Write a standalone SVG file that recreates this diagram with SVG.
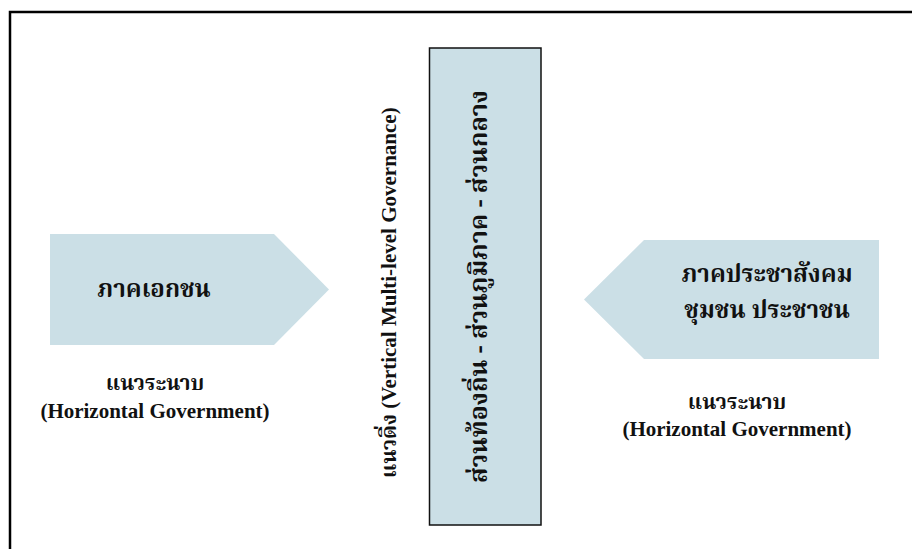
<svg xmlns="http://www.w3.org/2000/svg" width="912" height="549" viewBox="0 0 912 549">
<style>
.fill{fill:#cbdfe6;}
.en{font-family:"Liberation Serif","Times New Roman",serif;font-weight:bold;fill:#111;}
.th{font-family:"Noto Serif Thai","Noto Sans Thai","Liberation Serif",serif;font-weight:bold;fill:#111;}
</style>
<rect x="0" y="0" width="912" height="549" fill="#fff"/>
<g id="frame"><path d="M10,549 L10,12 L912,12" fill="none" stroke="#000" stroke-width="2.5"/></g>
<g id="center">
<rect x="429.5" y="48" width="111.5" height="477" class="fill" stroke="#111" stroke-width="1.5"/>
<text class="th" font-size="24" transform="translate(487,483) rotate(-90)" textLength="393" lengthAdjust="spacingAndGlyphs">ส่วนท้องถิ่น - ส่วนภูมิภาค - ส่วนกลาง</text>
</g>
<g id="vertical-label">
<text class="en" font-size="21" transform="translate(396,478) rotate(-90)"><tspan class="th">แนวดิ่ง</tspan> (Vertical Multi-level Governance)</text>
</g>
<g id="private">
<polygon class="fill" points="50,234 274,234 329,289.5 274,345 50,345"/>
<text class="th" font-size="24" x="154" y="297" text-anchor="middle">ภาคเอกชน</text>
</g>
<g id="civil">
<polygon class="fill" points="879,240 644,240 584,299.5 644,359 879,359"/>
<text class="th" font-size="24" x="767" y="282" text-anchor="middle">ภาคประชาสังคม</text>
<text class="th" font-size="24" x="767" y="318" text-anchor="middle">ชุมชน ประชาชน</text>
</g>
<g id="left-label">
<text class="th" font-size="21" x="155" y="390" text-anchor="middle">แนวระนาบ</text>
<text class="en" font-size="21" x="155" y="418" text-anchor="middle">(Horizontal Government)</text>
</g>
<g id="right-label">
<text class="th" font-size="21" x="737" y="409" text-anchor="middle">แนวระนาบ</text>
<text class="en" font-size="21" x="737" y="436" text-anchor="middle">(Horizontal Government)</text>
</g>
<g id="connectors"></g>
</svg>
